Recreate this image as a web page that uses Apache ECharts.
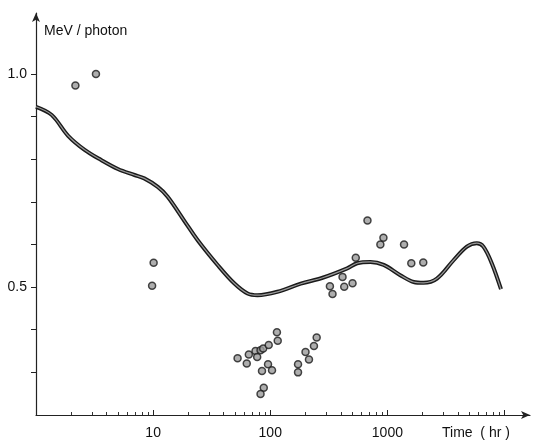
<!DOCTYPE html>
<html>
<head>
<meta charset="utf-8">
<script src="https://cdn.jsdelivr.net/npm/echarts@6/dist/echarts.min.js"></script>
<style>html,body{margin:0;padding:0;background:#fff;}#c{width:533px;height:443px;}</style>
</head>
<body>
<div id="c"></div>
<script>
// Measured points (Time hr, MeV/photon)
const pointTimes = [2.17, 3.25, 10.1, 9.8, 52.6, 63, 65.6, 74.8, 77.3, 82.6, 87, 97, 114, 115.8, 85, 95.7, 103.5, 88, 82.6,
  172.6, 172.6, 200, 214, 236, 249, 323, 340, 414, 428, 504, 537, 676, 871, 925, 1387, 1600, 2024];
const pointValues = [0.973, 1.0, 0.557, 0.503, 0.333, 0.321, 0.342, 0.35, 0.336, 0.352, 0.356, 0.364, 0.394, 0.374, 0.303, 0.319, 0.305, 0.264, 0.249,
  0.319, 0.30, 0.348, 0.330, 0.362, 0.382, 0.502, 0.484, 0.524, 0.501, 0.509, 0.569, 0.656, 0.60, 0.616, 0.60, 0.556, 0.558];
// Fitted curve
const curveTimes = [1.0, 1.36, 1.88, 2.6, 3.6, 5.0, 6.93, 8.4, 10.96, 13.3, 18.5, 24, 35.5, 49.2, 64, 77.8, 115, 182, 280, 454, 552, 716, 930, 1288, 1675, 2037, 2649, 3670, 4770, 5800, 6600, 7780, 9330];
const curveValues = [0.923, 0.904, 0.855, 0.822, 0.798, 0.777, 0.763, 0.755, 0.735, 0.712, 0.655, 0.61, 0.552, 0.509, 0.485, 0.481, 0.489, 0.508, 0.522, 0.544, 0.556, 0.559, 0.552, 0.528, 0.512, 0.51, 0.52, 0.563, 0.595, 0.603, 0.595, 0.556, 0.495];
// Axis ticks
const xMajorTicks = [10, 100, 1000, 10000];
const xLabelValues = [10, 100, 1000];
const xMinorTicks = [2,3,4,5,6,7,8,9,20,30,40,50,60,70,80,90,200,300,400,500,600,700,800,900,2000,3000,4000,5000,6000,7000,8000,9000];
const yTicks = [0.3, 0.4, 0.5, 0.6, 0.7, 0.8, 0.9, 1.0];
const yLabelValues = [0.5, 1.0];

const pts = pointTimes.map((t, i) => [t, pointValues[i]]);
const curve = curveTimes.map((t, i) => [t, curveValues[i]]);

const FONT = 'Liberation Sans, Arial, sans-serif';
const chart = echarts.init(document.getElementById('c'), null, {renderer: 'canvas'});
chart.setOption({
  animation: false,
  backgroundColor: '#fff',
  grid: {left: 36, right: 3, top: 13, bottom: 28, containLabel: false},
  xAxis: [{
    type: 'log', logBase: 10, min: 1, max: 16500,
    axisLine: {show: true, lineStyle: {color: '#222', width: 1.2}, symbol: ['none', 'arrow'], symbolSize: [6, 9]},
    axisTick: {show: true, inside: true, length: 5, customValues: xMajorTicks, lineStyle: {color: '#222'}},
    axisLabel: {show: true, customValues: xLabelValues, margin: 11, color: '#111', fontSize: 14, fontFamily: FONT,
      formatter: v => String(Math.round(v))},
    splitLine: {show: false}
  }, {
    type: 'log', logBase: 10, min: 1, max: 16500, position: 'bottom',
    axisLine: {show: false},
    axisTick: {show: true, inside: true, length: 3, customValues: xMinorTicks, lineStyle: {color: '#333'}},
    axisLabel: {show: false},
    splitLine: {show: false}
  }],
  yAxis: {
    type: 'value', min: 0.2, max: 1.143,
    axisLine: {show: true, lineStyle: {color: '#222', width: 1.2}, symbol: ['none', 'arrow'], symbolSize: [6, 9]},
    axisTick: {show: true, inside: false, length: 5, customValues: yTicks, lineStyle: {color: '#222'}},
    axisLabel: {show: true, customValues: yLabelValues, margin: 9, color: '#111', fontSize: 14, fontFamily: FONT,
      formatter: v => v.toFixed(1)},
    splitLine: {show: false}
  },
  graphic: [
    {type: 'text', left: 44, top: 24, style: {text: 'MeV / photon', fill: '#111', font: '14px ' + FONT}},
    {type: 'text', left: 442, top: 426, style: {text: 'Time  ( hr )', fill: '#111', font: '14px ' + FONT}}
  ],
  series: [
    {type: 'line', data: curve, smooth: 0.35, showSymbol: false, symbol: 'none',
      lineStyle: {color: '#1a1a1a', width: 4}, z: 2},
    {type: 'line', data: curve, smooth: 0.35, showSymbol: false, symbol: 'none',
      lineStyle: {color: '#9a9a9a', width: 1.2}, z: 3},
    {type: 'scatter', data: pts, symbol: 'circle', symbolSize: 7,
      itemStyle: {color: '#9a9a9a', borderColor: '#1a1a1a', borderWidth: 1.5}, z: 4}
  ]
});
</script>
</body>
</html>
